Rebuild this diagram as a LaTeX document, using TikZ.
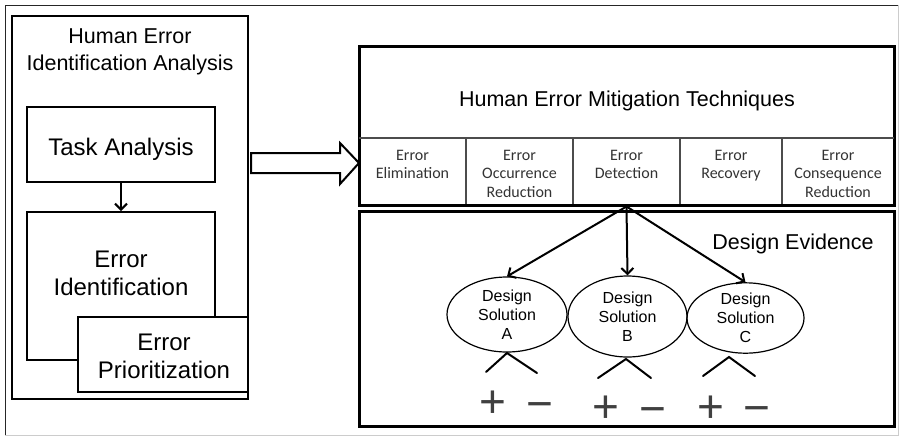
\documentclass[tikz,border=0pt]{standalone}
\usepackage{fontspec}
\setmainfont{Liberation Sans}
\newfontfamily\colfont{Carlito}
\usetikzlibrary{arrows.meta,shapes.geometric}

\begin{document}
\begin{tikzpicture}[x=1pt,y=-1pt,
  outerbox/.style={draw,line width=2.5pt,inner sep=0pt},
  stepbox/.style={draw,line width=2pt,inner sep=0pt,fill=white},
  bigbox/.style={draw,line width=3pt,inner sep=0pt},
  bigtext/.style={font=\fontsize{21.5}{27.5}\selectfont,align=center,anchor=base,inner sep=0pt},
  midtext/.style={font=\fontsize{24}{28}\selectfont,align=center,anchor=base,inner sep=0pt},
  coltext/.style={font=\colfont\fontsize{16}{18.5}\selectfont,text=black!80,align=center,anchor=base,inner sep=0pt},
  divider/.style={draw=black!70,line width=1.5pt,shorten <=1.5pt,shorten >=1.5pt},
  sol/.style={draw,ellipse,line width=1.2pt,inner sep=0pt,align=center,font=\fontsize{16}{19}\selectfont},
  arr/.style={-{Straight Barb[length=6pt,width=12pt]},line width=2pt},
  caret/.style={line width=2pt,line cap=round},
  sign/.style={font=\fontsize{46}{46}\selectfont,text=black!75,anchor=base,inner sep=0pt},
  blockarrow/.style={draw,line width=2pt,fill=white,line join=miter}
]
\useasboundingbox (0,0) rectangle (905,437);

% page frame
\draw[black!85,line width=1pt] (5,435) -- (5,5) -- (898,5);
\draw[black!20,line width=1pt] (898,5) -- (898,435) -- (5,435);

% left column: identification analysis (text nodes sit on the baseline of their last line)
\node[outerbox,minimum width=236pt,minimum height=383pt] (hei) at (130,207.5) {};
\node[bigtext] (heiT) at (130,70.7) {Human Error\\Identification Analysis};

\node[stepbox,minimum width=188pt,minimum height=75pt] (task) at (121,144.5) {};
\node[midtext] (taskT) at (121,155) {Task Analysis};

\node[stepbox,minimum width=188pt,minimum height=148pt] (eid) at (121,286) {};
\node[midtext] (eidT) at (121,295) {Error\\Identification};

\node[stepbox,minimum width=170pt,minimum height=75pt] (epr) at (163,354.5) {};
\node[midtext] (eprT) at (164,378) {Error\\Prioritization};

\draw[arr] (task.south) -- (eid.north);

% mitigation techniques table
\node[bigbox,minimum width=535pt,minimum height=159pt] (mit) at (626.5,125.5) {};
\node[bigtext] (mitT) at (627,106.7) {Human Error Mitigation Techniques};
\coordinate (rowline) at (0,138);
\draw[divider] (mit.west |- rowline) -- (mit.east |- rowline);
\foreach \x in {466,573,680,782}
  \draw[divider,shorten <=0pt] (\x,138) -- (\x,205);

\node[coltext] (c1) at (412.5,178.5) {Error\\Elimination};
\node[coltext] (c2) at (519.5,197) {Error\\Occurrence\\Reduction};
\node[coltext] (c3) at (626.5,178.5) {Error\\Detection};
\node[coltext] (c4) at (731,178.5) {Error\\Recovery};
\node[coltext] (c5) at (838,197) {Error\\Consequence\\Reduction};

% block arrow between the two parts
\coordinate (bt) at (251,163);
\coordinate (bh) at (359,163);
\draw[blockarrow] (bt) ++(0,-10) -- ++(89,0) -- ++(0,-10) -- (bh)
  -- ++(-19,21) -- ++(0,-11) -- ++(-89,0) -- cycle;

% design evidence
\node[bigbox,minimum width=535pt,minimum height=215pt] (dev) at (626.5,318.5) {};
\node[bigtext] (devT) at (793,249.7) {Design Evidence};

\node[sol,minimum width=120pt,minimum height=75pt] (eA) at (507,314.5) {Design\\Solution\\A};
\node[sol,minimum width=119pt,minimum height=81pt] (eB) at (627.5,316.5) {Design\\Solution\\B};
\node[sol,minimum width=117pt,minimum height=70pt] (eC) at (745.5,318) {Design\\Solution\\C};

\coordinate (src) at (c3 |- mit.south);
\draw[arr] (src) -- (eA.north);
\draw[arr] (src) -- (eB.north);
\draw[arr] (src) -- (eC.north);

\draw[caret] (486,372) -- (507,353) -- (537,373);
\draw[caret] (598,378) -- (626,359) -- (651,378);
\draw[caret] (703,376) -- (729,357) -- (755,376);

\node[sign] (pA) at (493,417.7) {+};
\node[sign] (mA) at (540,419.2) {−};
\node[sign] (pB) at (606,422.5) {+};
\node[sign] (mB) at (653,424.2) {−};
\node[sign] (pC) at (710.5,422.7) {+};
\node[sign] (mC) at (757,423.2) {−};
\end{tikzpicture}
\end{document}
